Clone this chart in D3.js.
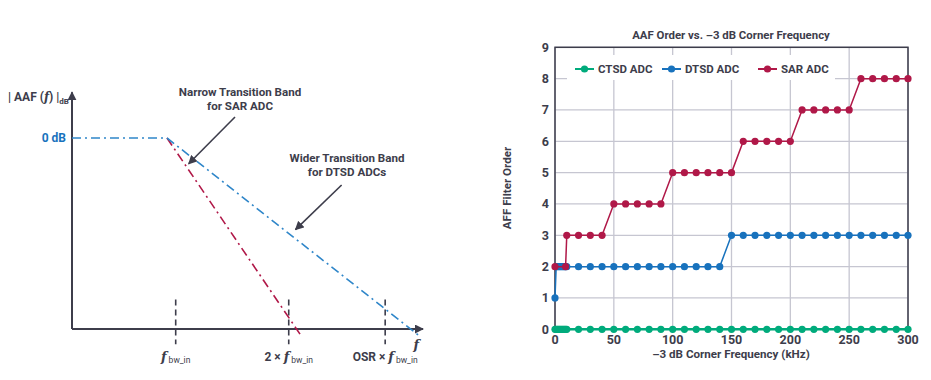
<!DOCTYPE html>
<html>
<head>
<meta charset="utf-8">
<script src="https://cdn.jsdelivr.net/npm/d3@7"></script>
<style>
  body { margin: 0; background: #ffffff; }
  text { font-family: Roboto, "Open Sans", sans-serif; font-weight: 700; fill: #3d3d4b; }
</style>
</head>
<body>
<div id="chart"></div>
<script>
/* CONSTANTS AND GLOBALS */
const width = 931,
  height = 380;

/* DATA - right chart */
const freqKHz = [0, 1, 2, 3, 4, 5, 6, 7, 8, 9, 10, 20, 30, 40, 50, 60, 70, 80, 90, 100,
  110, 120, 130, 140, 150, 160, 170, 180, 190, 200, 210, 220, 230, 240, 250, 260, 270, 280, 290, 300];
const ctsdOrder = [0, 0, 0, 0, 0, 0, 0, 0, 0, 0, 0, 0, 0, 0, 0, 0, 0, 0, 0, 0,
  0, 0, 0, 0, 0, 0, 0, 0, 0, 0, 0, 0, 0, 0, 0, 0, 0, 0, 0, 0];
const dtsdOrder = [1, 2, 2, 2, 2, 2, 2, 2, 2, 2, 2, 2, 2, 2, 2, 2, 2, 2, 2, 2,
  2, 2, 2, 2, 3, 3, 3, 3, 3, 3, 3, 3, 3, 3, 3, 3, 3, 3, 3, 3];
const sarFreqKHz = [0, 9, 10, 20, 30, 40, 50, 60, 70, 80, 90, 100,
  110, 120, 130, 140, 150, 160, 170, 180, 190, 200, 210, 220, 230, 240, 250, 260, 270, 280, 290, 300];
const sarOrder = [2, 2, 3, 3, 3, 3, 4, 4, 4, 4, 4, 5,
  5, 5, 5, 5, 5, 6, 6, 6, 6, 6, 7, 7, 7, 7, 7, 8, 8, 8, 8, 8];
const seriesNames = ["CTSD ADC", "DTSD ADC", "SAR ADC"];
const seriesColors = ["#00ab7c", "#1872bd", "#b01848"];
const xTicks = [0, 50, 100, 150, 200, 250, 300];
const yTicks = [0, 1, 2, 3, 4, 5, 6, 7, 8, 9];

/* DATA - left schematic (x in units of f_bw_in, y in relative attenuation) */
const bwMultiples = [1, 2.09, 3.02];
const bwPrefixes = ["", "2 × ", "OSR × "];
const passbandResponse = [[0, 0], [0.916, 0]];
const sarResponse = [[0.916, 0], [2.215, -1.04]];
const dtsdResponse = [[0.916, 0], [3.36, -1.04]];
const narrowArrow = [[1.572, 0.11], [1.125, -0.135]];
const widerArrow = [[2.60, -0.246], [2.155, -0.48]];

const svg = d3.select("#chart")
  .append("svg")
  .attr("width", width)
  .attr("height", height)
  .style("background-color", "#ffffff");

svg.append("defs").append("marker")
  .attr("id", "arrowHead")
  .attr("viewBox", "0 0 10 10")
  .attr("refX", 9).attr("refY", 5)
  .attr("markerWidth", 9).attr("markerHeight", 9)
  .attr("markerUnits", "userSpaceOnUse")
  .attr("orient", "auto")
  .append("path")
  .attr("d", "M0,0 L10,5 L0,10 z")
  .attr("fill", "#3d3d4b");

/*******************/
/* LEFT SCHEMATIC  */
/*******************/

const sx = d3.scaleLinear().domain([0, 1]).range([72, 175.7]);
const sy = d3.scaleLinear().domain([0, -1]).range([138, 329]);
const lineS = d3.line().x(d => sx(d[0])).y(d => sy(d[1]));

// axes with arrows
svg.append("line")
  .attr("x1", sx(0)).attr("y1", sy(-1))
  .attr("x2", sx(0)).attr("y2", sy(0.24))
  .attr("stroke", "#3d3d4b").attr("stroke-width", 2)
  .attr("marker-end", "url(#arrowHead)");
svg.append("line")
  .attr("x1", sx(0)).attr("y1", sy(-1))
  .attr("x2", sx(3.385)).attr("y2", sy(-1))
  .attr("stroke", "#3d3d4b").attr("stroke-width", 2)
  .attr("marker-end", "url(#arrowHead)");

// dashed frequency markers
svg.selectAll(".bwTick")
  .data(bwMultiples)
  .join("line")
  .attr("class", "bwTick")
  .attr("x1", d => sx(d)).attr("x2", d => sx(d))
  .attr("y1", sy(-0.845)).attr("y2", sy(-1.08))
  .attr("stroke", "#3d3d4b").attr("stroke-width", 1.6)
  .attr("stroke-dasharray", "6,4");

// responses
svg.append("path").attr("d", lineS(passbandResponse))
  .attr("fill", "none").attr("stroke", "#2f86c9").attr("stroke-width", 1.6)
  .attr("stroke-dasharray", "9,4,2,4");
svg.append("path").attr("d", lineS(sarResponse))
  .attr("fill", "none").attr("stroke", "#b01848").attr("stroke-width", 1.6)
  .attr("stroke-dasharray", "9,4,2,4");
svg.append("path").attr("d", lineS(dtsdResponse))
  .attr("fill", "none").attr("stroke", "#2f86c9").attr("stroke-width", 1.6)
  .attr("stroke-dasharray", "9,4,2,4");

// annotation arrows
[narrowArrow, widerArrow].forEach(a => {
  svg.append("line")
    .attr("x1", sx(a[0][0])).attr("y1", sy(a[0][1]))
    .attr("x2", sx(a[1][0])).attr("y2", sy(a[1][1]))
    .attr("stroke", "#3d3d4b").attr("stroke-width", 1.6)
    .attr("marker-end", "url(#arrowHead)");
});

// labels
svg.append("text")
  .attr("x", 8).attr("y", 101)
  .style("font-size", "12px")
  .call(t => {
    t.append("tspan").text("| AAF (");
    t.append("tspan").text("f").style("font-style", "italic").style("font-family", "'DejaVu Serif', serif");
    t.append("tspan").text(") |");
    t.append("tspan").text("dB").attr("dy", 3).style("font-size", "8px");
  });

svg.append("text")
  .attr("x", 66).attr("y", sy(0) + 4)
  .attr("text-anchor", "end")
  .style("font-size", "12px")
  .style("fill", "#1872bd")
  .text("0 dB");

svg.selectAll(".bwLabel")
  .data(bwMultiples)
  .join("text")
  .attr("class", "bwLabel")
  .attr("x", d => sx(d))
  .attr("y", 361)
  .attr("text-anchor", "middle")
  .style("font-size", "12px")
  .each(function (d, i) {
    const t = d3.select(this);
    t.append("tspan").text(bwPrefixes[i]);
    t.append("tspan").text("f").style("font-style", "italic").style("font-family", "'DejaVu Serif', serif").style("font-size", "13px");
    t.append("tspan").text("bw_in").attr("dx", 2).attr("dy", 2).style("font-size", "8.5px").style("font-weight", "400");
  });

svg.append("text")
  .attr("x", sx(3.32)).attr("y", 349)
  .attr("text-anchor", "middle")
  .style("font-size", "13px")
  .style("font-style", "italic")
  .style("font-family", "'DejaVu Serif', serif")
  .text("f");

svg.append("text")
  .attr("x", 240).attr("y", 96)
  .attr("text-anchor", "middle")
  .style("font-size", "11.6px")
  .call(t => {
    t.append("tspan").attr("x", 240).text("Narrow Transition Band");
    t.append("tspan").attr("x", 240).attr("dy", 14).text("for SAR ADC");
  });

svg.append("text")
  .attr("x", 347).attr("y", 162)
  .attr("text-anchor", "middle")
  .style("font-size", "11.6px")
  .call(t => {
    t.append("tspan").attr("x", 347).text("Wider Transition Band");
    t.append("tspan").attr("x", 347).attr("dy", 14).text("for DTSD ADCs");
  });

/*******************/
/* RIGHT CHART     */
/*******************/

const xScale = d3.scaleLinear().domain([0, 300]).range([555, 908]);
const yScale = d3.scaleLinear().domain([0, 9]).range([329.3, 47.3]);

// grid
svg.append("g")
  .selectAll("line")
  .data(xTicks)
  .join("line")
  .attr("x1", d => xScale(d)).attr("x2", d => xScale(d))
  .attr("y1", yScale(0)).attr("y2", yScale(9))
  .attr("stroke", "#c6c6d1").attr("stroke-width", 1.3);
svg.append("g")
  .selectAll("line")
  .data(yTicks)
  .join("line")
  .attr("x1", xScale(0)).attr("x2", xScale(300))
  .attr("y1", d => yScale(d)).attr("y2", d => yScale(d))
  .attr("stroke", "#c6c6d1").attr("stroke-width", 1.3);

// legend background
svg.append("rect")
  .attr("x", 567).attr("y", 55)
  .attr("width", 268).attr("height", 25)
  .attr("fill", "#ffffff");

// frame
svg.append("rect")
  .attr("x", xScale(0)).attr("y", yScale(9))
  .attr("width", xScale(300) - xScale(0))
  .attr("height", yScale(0) - yScale(9))
  .attr("fill", "none")
  .attr("stroke", "#3d3d4b").attr("stroke-width", 1.5);

// axis tick labels
svg.selectAll(".yTickLabel")
  .data(yTicks)
  .join("text")
  .attr("class", "yTickLabel")
  .attr("x", 549)
  .attr("y", d => yScale(d) + 4.5)
  .attr("text-anchor", "end")
  .style("font-size", "12.5px")
  .text(d => d);

svg.selectAll(".xTickLabel")
  .data(xTicks)
  .join("text")
  .attr("class", "xTickLabel")
  .attr("x", d => xScale(d))
  .attr("y", 344)
  .attr("text-anchor", "middle")
  .style("font-size", "12.5px")
  .text(d => d);

// titles
svg.append("text")
  .attr("x", 731).attr("y", 39)
  .attr("text-anchor", "middle")
  .style("font-size", "11.4px")
  .text("AAF Order vs. –3 dB Corner Frequency");

svg.append("text")
  .attr("x", 731).attr("y", 358)
  .attr("text-anchor", "middle")
  .style("font-size", "11.6px")
  .text("–3 dB Corner Frequency (kHz)");

svg.append("text")
  .attr("transform", "translate(511,188) rotate(-90)")
  .attr("text-anchor", "middle")
  .style("font-size", "11.6px")
  .text("AFF Filter Order");

// series
const seriesX = [freqKHz, freqKHz, sarFreqKHz];
const allSeries = [ctsdOrder, dtsdOrder, sarOrder].map((vals, i) => ({
  name: seriesNames[i],
  color: seriesColors[i],
  points: seriesX[i].map((f, j) => ({ f: f, v: vals[j] }))
}));

const lineGen = d3.line()
  .x(d => xScale(d.f))
  .y(d => yScale(d.v));

const seriesG = svg.selectAll(".series")
  .data(allSeries)
  .join("g")
  .attr("class", "series");

seriesG.append("path")
  .attr("fill", "none")
  .attr("stroke", d => d.color)
  .attr("stroke-width", (d, i) => i === 0 ? 2.5 : 1.5)
  .attr("d", d => lineGen(d.points));

seriesG.selectAll("circle")
  .data(d => d.points.map(p => ({ ...p, color: d.color })))
  .join("circle")
  .attr("cx", d => xScale(d.f))
  .attr("cy", d => yScale(d.v))
  .attr("r", 3.6)
  .attr("fill", d => d.color);

// legend
const legendX = [575, 662, 758];
const legend = svg.selectAll(".legendItem")
  .data(allSeries)
  .join("g")
  .attr("class", "legendItem")
  .attr("transform", (d, i) => `translate(${legendX[i]},69)`);
legend.append("line")
  .attr("x1", 0).attr("x2", 19)
  .attr("stroke", d => d.color).attr("stroke-width", 2);
legend.append("circle")
  .attr("cx", 9.5).attr("r", 3.6)
  .attr("fill", d => d.color);
legend.append("text")
  .attr("x", 23).attr("y", 4)
  .style("font-size", "11.5px")
  .text(d => d.name);
</script>
</body>
</html>
